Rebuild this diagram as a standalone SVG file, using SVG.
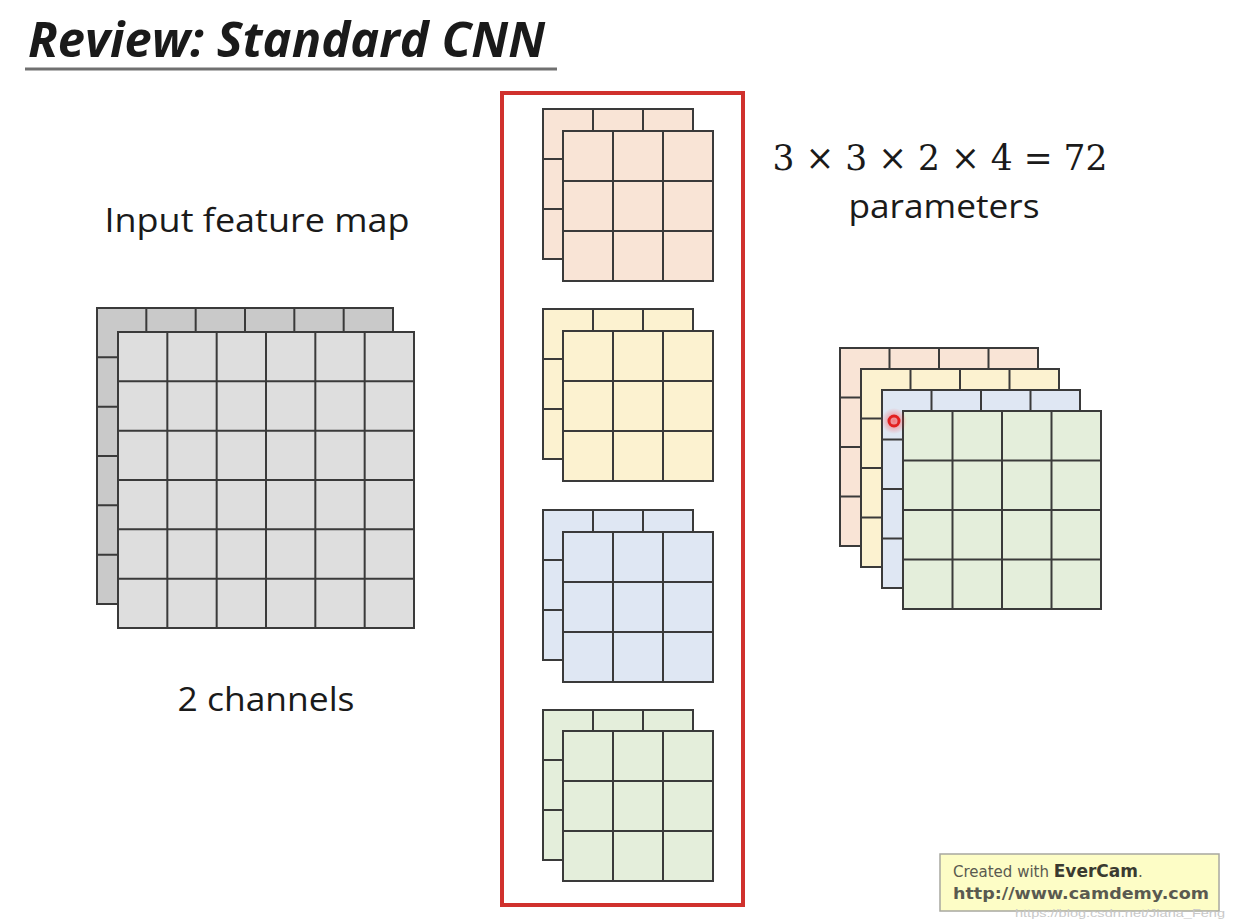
<svg xmlns="http://www.w3.org/2000/svg" xmlns:xlink="http://www.w3.org/1999/xlink" width="1236" height="920" viewBox="0 0 1236 920">
<style>
.grid{fill:none;stroke:#3a3a3a;stroke-width:2}
.txt{font-family:"Open Sans","Liberation Sans",sans-serif;fill:#1a1a1a}
.math{font-family:"DejaVu Serif","Liberation Serif",serif;fill:#1a1a1a}
.gray1{fill:#c9c9c9}.gray2{fill:#dedede}
.peach{fill:#f9e4d6}.yellow{fill:#fcf2d0}.blue{fill:#dfe7f3}.green{fill:#e4eedb}
</style>
<defs>
<path id="g3" class="grid" d="M0 0H150V150H0Z M50 0V150 M100 0V150 M0 50H150 M0 100H150"/>
<path id="g4" class="grid" d="M0 0H198V198H0Z M49.5 0V198 M99 0V198 M148.5 0V198 M0 49.5H198 M0 99H198 M0 148.5H198"/>
<path id="g6" class="grid" d="M0 0H296V296H0Z M49.33 0V296 M98.67 0V296 M148 0V296 M197.33 0V296 M246.67 0V296 M0 49.33H296 M0 98.67H296 M0 148H296 M0 197.33H296 M0 246.67H296"/>
<radialGradient id="glow">
<stop offset="0" stop-color="#ff3030" stop-opacity="0.6"/>
<stop offset="1" stop-color="#ff3030" stop-opacity="0"/>
</radialGradient>
</defs>
<rect width="1236" height="920" fill="#ffffff"/>
<g id="title">
<text class="txt" x="28" y="57" font-size="48" font-weight="bold" font-style="italic" textLength="517" lengthAdjust="spacingAndGlyphs">Review: Standard CNN</text>
<line x1="25" y1="69" x2="557" y2="69" stroke="#707070" stroke-width="3"/>
</g>
<g id="input-label">
<text class="txt" x="257" y="232" font-size="33" text-anchor="middle" textLength="305" lengthAdjust="spacingAndGlyphs">Input feature map</text>
</g>
<g id="input-map">
<rect class="gray1" x="97" y="308" width="296" height="296"/>
<use xlink:href="#g6" x="97" y="308"/>
<rect class="gray2" x="118" y="332" width="296" height="296"/>
<use xlink:href="#g6" x="118" y="332"/>
</g>
<g id="channels-label">
<text class="txt" x="266" y="711" font-size="33" text-anchor="middle" textLength="177" lengthAdjust="spacingAndGlyphs">2 channels</text>
</g>
<g id="filters">
<rect x="502" y="93" width="241" height="812" fill="none" stroke="#d0312d" stroke-width="4"/>
<g id="filter1">
<rect class="peach" x="543" y="109" width="150" height="150"/><use xlink:href="#g3" x="543" y="109"/>
<rect class="peach" x="563" y="131" width="150" height="150"/><use xlink:href="#g3" x="563" y="131"/>
</g>
<g id="filter2">
<rect class="yellow" x="543" y="309" width="150" height="150"/><use xlink:href="#g3" x="543" y="309"/>
<rect class="yellow" x="563" y="331" width="150" height="150"/><use xlink:href="#g3" x="563" y="331"/>
</g>
<g id="filter3">
<rect class="blue" x="543" y="510" width="150" height="150"/><use xlink:href="#g3" x="543" y="510"/>
<rect class="blue" x="563" y="532" width="150" height="150"/><use xlink:href="#g3" x="563" y="532"/>
</g>
<g id="filter4">
<rect class="green" x="543" y="710" width="150" height="150"/><use xlink:href="#g3" x="543" y="710"/>
<rect class="green" x="563" y="731" width="150" height="150"/><use xlink:href="#g3" x="563" y="731"/>
</g>
</g>
<g id="formula">
<text class="math" x="940" y="170" font-size="36" text-anchor="middle" textLength="335" lengthAdjust="spacingAndGlyphs">3 × 3 × 2 × 4 = 72</text>
<text class="txt" x="944" y="218" font-size="33" text-anchor="middle" textLength="191" lengthAdjust="spacingAndGlyphs">parameters</text>
</g>
<g id="output-map">
<rect class="peach" x="840" y="348" width="198" height="198"/><use xlink:href="#g4" x="840" y="348"/>
<rect class="yellow" x="861" y="369" width="198" height="198"/><use xlink:href="#g4" x="861" y="369"/>
<rect class="blue" x="882" y="390" width="198" height="198"/><use xlink:href="#g4" x="882" y="390"/>
<rect class="green" x="903" y="411" width="198" height="198"/><use xlink:href="#g4" x="903" y="411"/>
<circle cx="894" cy="421" r="13" fill="url(#glow)"/>
<circle cx="894" cy="421" r="5" fill="none" stroke="#e32020" stroke-width="3"/>
</g>
<g id="evercam">
<rect x="940" y="854" width="279" height="57" fill="#fdfdc6" stroke="#a8a8a0" stroke-width="1.5"/>
<text x="953" y="877" font-family="'DejaVu Sans','Liberation Sans',sans-serif" font-size="15" fill="#5a5a50">Created with <tspan font-weight="bold" font-size="17" fill="#3a3a30">EverCam</tspan>.</text>
<text x="953" y="899" font-family="'DejaVu Sans','Liberation Sans',sans-serif" font-size="16" font-weight="bold" fill="#5a5a50" textLength="256" lengthAdjust="spacingAndGlyphs">http://www.camdemy.com</text>
<text x="1015" y="917" font-family="'Liberation Sans',sans-serif" font-size="11" fill="#c8c8c8" textLength="210" lengthAdjust="spacingAndGlyphs">https://blog.csdn.net/Jiana_Feng</text>
</g>
</svg>
